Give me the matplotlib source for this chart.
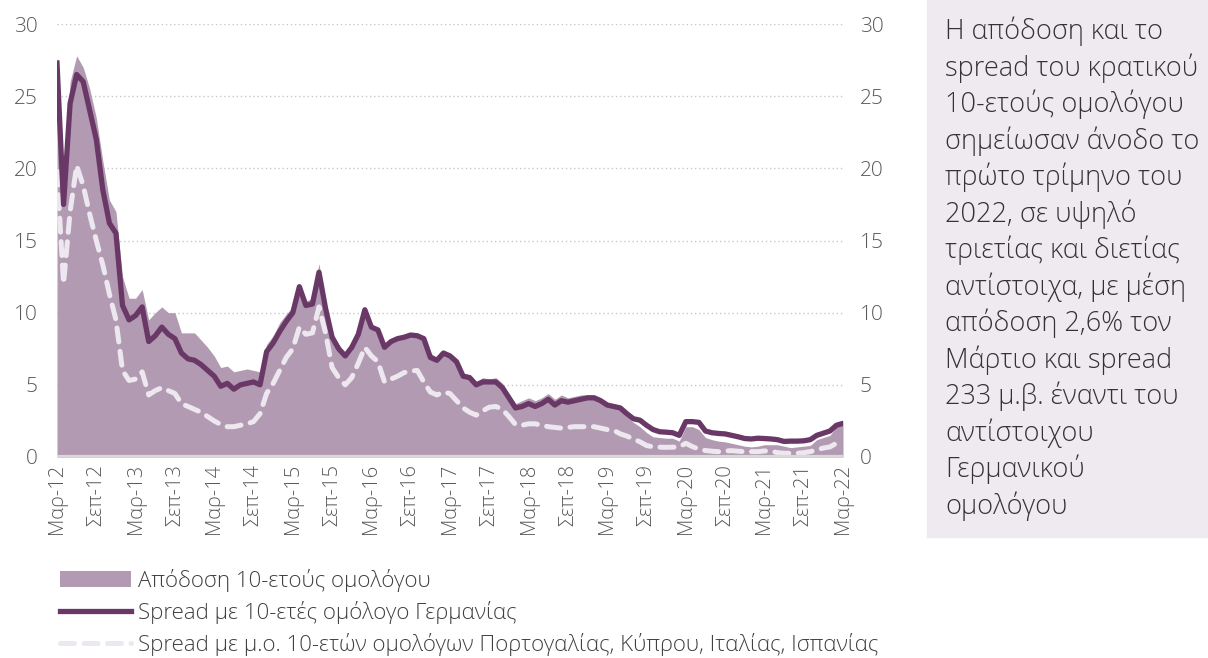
import numpy as np
import matplotlib
matplotlib.use("Agg")
import matplotlib.pyplot as plt
from matplotlib.patches import Patch
from matplotlib.lines import Line2D

plt.rcParams['font.family'] = ['Open Sans', 'DejaVu Sans']

# ---- data (monthly, Mar-2012 .. Mar-2022) ----
yield_10y = [
    27.6, 19.0, 26.0, 27.8, 27.0, 25.5, 23.5, 20.5, 17.8, 17.0,
    12.5, 11.0, 11.0, 11.6, 9.5, 10.0, 10.4, 10.0, 10.0, 8.6,
    8.6, 8.6, 8.1, 7.6, 7.0, 6.2, 6.3, 5.9, 6.0, 6.1,
    6.0, 5.9, 7.8, 8.4, 9.3, 9.9, 10.4, 11.9, 10.8, 11.0,
    13.4, 10.6, 8.6, 7.8, 7.2, 7.7, 8.6, 10.1, 9.2, 8.9,
    7.7, 8.0, 8.2, 8.3, 8.45, 8.5, 8.3, 7.2, 6.9, 7.4,
    7.2, 6.8, 5.8, 5.7, 5.2, 5.5, 5.4, 5.5, 5.1, 4.4,
    3.7, 3.9, 4.1, 3.9, 4.1, 4.4, 4.0, 4.3, 4.1, 4.2,
    4.3, 4.3, 4.3, 4.1, 3.8, 3.6, 3.4, 2.8, 2.4, 2.1,
    1.7, 1.4, 1.35, 1.3, 1.3, 1.1, 2.1, 2.1, 1.9, 1.35,
    1.2, 1.1, 1.05, 0.95, 0.85, 0.75, 0.7, 0.75, 0.85, 0.85,
    0.85, 0.75, 0.65, 0.7, 0.75, 0.8, 1.2, 1.35, 1.5, 2.1,
    2.5,
]
spread_de = [
    27.3, 17.5, 24.5, 26.5, 26.0, 24.0, 22.0, 18.5, 16.2, 15.5,
    10.5, 9.5, 9.8, 10.4, 8.0, 8.4, 9.0, 8.5, 8.2, 7.2,
    6.8, 6.7, 6.4, 6.0, 5.6, 4.9, 5.1, 4.7, 5.0, 5.1,
    5.2, 5.0, 7.3, 7.9, 8.7, 9.4, 10.0, 11.8, 10.5, 10.6,
    12.8, 10.3, 8.3, 7.5, 7.0, 7.6, 8.5, 10.2, 9.0, 8.8,
    7.6, 8.0, 8.2, 8.3, 8.45, 8.4, 8.2, 6.9, 6.7, 7.2,
    7.0, 6.6, 5.6, 5.5, 5.0, 5.2, 5.2, 5.2, 4.8, 4.1,
    3.4, 3.5, 3.7, 3.5, 3.7, 4.0, 3.6, 3.9, 3.8, 3.9,
    4.0, 4.1, 4.1, 3.9, 3.6, 3.5, 3.4, 3.0, 2.65, 2.55,
    2.2, 1.9, 1.75, 1.72, 1.68, 1.5, 2.45, 2.45, 2.4, 1.8,
    1.68, 1.63, 1.6, 1.5, 1.4, 1.28, 1.25, 1.3, 1.28, 1.25,
    1.2, 1.08, 1.1, 1.1, 1.12, 1.2, 1.5, 1.65, 1.8, 2.2,
    2.33,
]
spread_periph = [
    19.8, 12.0, 17.0, 20.2, 18.8, 16.8, 15.0, 13.3, 11.3, 9.5,
    6.0, 5.3, 5.4, 5.9, 4.3, 4.6, 4.8, 4.6, 4.4, 3.7,
    3.5, 3.3, 3.1, 2.8, 2.5, 2.25, 2.1, 2.1, 2.2, 2.3,
    2.45, 3.0, 4.4, 5.1, 6.0, 6.9, 7.5, 9.0, 8.5, 8.6,
    10.4, 8.6, 6.2, 5.5, 5.0, 5.5, 6.5, 7.6, 7.0, 6.6,
    5.2, 5.4, 5.6, 5.85, 5.95, 6.0, 5.2, 4.5, 4.3, 4.5,
    4.4, 3.9, 3.4, 3.1, 2.9, 3.2, 3.45, 3.5, 3.3, 2.8,
    2.25, 2.2, 2.3, 2.3, 2.2, 2.1, 2.05, 2.0, 2.05, 2.1,
    2.1, 2.1, 2.1, 2.0, 1.9, 1.85, 1.6, 1.45, 1.25, 1.05,
    0.8, 0.7, 0.68, 0.67, 0.68, 0.7, 0.95, 0.72, 0.55, 0.45,
    0.4, 0.37, 0.42, 0.44, 0.4, 0.37, 0.37, 0.37, 0.42, 0.4,
    0.3, 0.26, 0.26, 0.26, 0.3, 0.37, 0.5, 0.62, 0.7, 0.95,
    1.05,
]
tick_labels = ["Μαρ-12", "Σεπ-12", "Μαρ-13", "Σεπ-13", "Μαρ-14", "Σεπ-14",
               "Μαρ-15", "Σεπ-15", "Μαρ-16", "Σεπ-16", "Μαρ-17", "Σεπ-17",
               "Μαρ-18", "Σεπ-18", "Μαρ-19", "Σεπ-19", "Μαρ-20", "Σεπ-20",
               "Μαρ-21", "Σεπ-21", "Μαρ-22"]
legend_labels = ["Απόδοση 10-ετούς ομολόγου",
                 "Spread με 10-ετές ομόλογο Γερμανίας",
                 "Spread με μ.ο. 10-ετών ομολόγων Πορτογαλίας, Κύπρου, Ιταλίας, Ισπανίας"]
note = ("Η απόδοση και το\nspread του κρατικού\n10-ετούς ομολόγου\n"
        "σημείωσαν άνοδο το\nπρώτο τρίμηνο του\n2022, σε υψηλό\n"
        "τριετίας και διετίας\nαντίστοιχα, με μέση\nαπόδοση 2,6% τον\n"
        "Μάρτιο και spread\n233 μ.β. έναντι του\nαντίστοιχου\nΓερμανικού\nομολόγου")

AREA = "#b29bb2"
LINE = "#6a3866"
DASH = "#ede7ef"
TXT = "#404040"
TICK = "#595959"

W, H = 1208, 658
fig = plt.figure(figsize=(W / 100, H / 100), dpi=100)
x0, x1, ytop, ybot = 57, 843, 24, 457
ax = fig.add_axes([x0 / W, 1 - ybot / H, (x1 - x0) / W, (ybot - ytop) / H])

x = np.arange(len(yield_10y))
ax.fill_between(x, 0, yield_10y, color=AREA, lw=0, zorder=2)
ax.plot(x, spread_de, color=LINE, lw=3.8, zorder=4, solid_joinstyle='round')
ax.plot(x, spread_periph, color=DASH, lw=3.6, zorder=3, dashes=(2.8, 1.9),
        dash_capstyle='round')

ax.set_xlim(0, len(x) - 1)
ax.set_ylim(0, 30)
ax.set_yticks(range(0, 31, 5))
for yv in range(5, 31, 5):
    ax.axhline(yv, color="#c8c8c8", lw=1.0, ls=(0, (1, 2)), zorder=1)
ax.axhline(0, color="#d9d9d9", lw=3, zorder=5)

ax.set_xticks(np.arange(0, len(x), 6))
ax.set_xticklabels(tick_labels, rotation=90, fontsize=14.5, color=TICK,
                   fontweight='light')
ax.tick_params(axis='x', length=0, pad=5)
ax.tick_params(axis='y', length=0, pad=14, labelsize=15, labelcolor=TICK)
for s in ax.spines.values():
    s.set_visible(False)

ax2 = ax.twinx()
ax2.set_ylim(0, 30)
ax2.set_yticks(range(0, 31, 5))
ax2.tick_params(axis='y', length=0, pad=12, labelsize=15, labelcolor=TICK)
for s in ax2.spines.values():
    s.set_visible(False)
for lab in ax.get_yticklabels() + ax2.get_yticklabels():
    lab.set_fontweight('light')

# note box
fig.patches.append(plt.Rectangle((927 / W, 1 - 537 / H), (W - 927) / W, 537 / H,
                                 transform=fig.transFigure, color="#efeaf0",
                                 zorder=0))
fig.text(945 / W, 1 - 17 / H, note, fontsize=19.5, color="#333333",
         va='top', ha='left', linespacing=1.31, fontweight='light')

handles = [Patch(facecolor=AREA, edgecolor='none'),
           Line2D([0], [0], color=LINE, lw=3.8),
           Line2D([0], [0], color=DASH, lw=3.6, dashes=(2.8, 1.9),
                  dash_capstyle='round')]
fig.legend(handles, legend_labels, loc='upper left',
           bbox_to_anchor=(60 / W, 1 - 569 / H), frameon=False,
           prop={'size': 16, 'weight': 'light'},
           labelcolor=TXT, handlelength=3.2, handletextpad=0.3,
           labelspacing=0.4, borderpad=0, borderaxespad=0)

fig.savefig("out.png", dpi=100)
